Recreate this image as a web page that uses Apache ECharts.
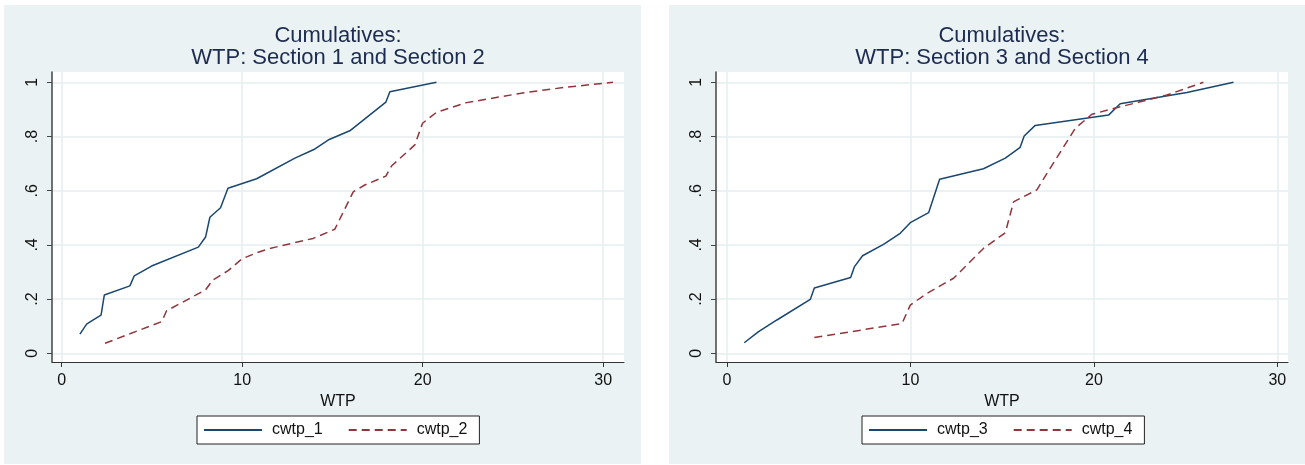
<!DOCTYPE html>
<html>
<head>
<meta charset="utf-8">
<title>Cumulatives: WTP</title>
<script src="https://cdn.jsdelivr.net/npm/echarts@6/dist/echarts.min.js"></script>
<style>
html, body { margin: 0; padding: 0; background: #fff; }
#main { width: 1305px; height: 465px; }
</style>
</head>
<body>
<div id="main"></div>
<script>
// section 1 (solid) and section 2 (dashed)
var wtp1 = [1.01, 1.38, 1.66, 2.18, 2.36, 3.78, 4.02, 4.98, 7.57, 7.97, 8.21, 8.8, 9.21, 10.8, 12.92, 13.97, 14.82, 15.96, 17.96, 18.18, 20.76];
var cwtp1 = [0.071, 0.108, 0.12, 0.141, 0.215, 0.249, 0.286, 0.322, 0.392, 0.429, 0.502, 0.537, 0.609, 0.644, 0.72, 0.752, 0.789, 0.821, 0.927, 0.965, 1.0];
var wtp2 = [2.4, 5.54, 5.81, 7.97, 8.36, 9.22, 9.97, 10.8, 11.53, 13.93, 15.13, 16.15, 16.79, 17.96, 18.27, 19.56, 19.99, 20.76, 22.43, 25.75, 27.96, 30.54];
var cwtp2 = [0.037, 0.117, 0.157, 0.234, 0.27, 0.305, 0.348, 0.371, 0.387, 0.424, 0.458, 0.596, 0.621, 0.654, 0.691, 0.769, 0.849, 0.889, 0.925, 0.963, 0.982, 1.0];

// section 3 (solid) and section 4 (dashed)
var wtp3 = [0.94, 1.72, 2.72, 4.54, 4.76, 6.74, 6.95, 7.39, 8.53, 9.44, 9.99, 10.99, 11.59, 13.98, 15.17, 15.98, 16.2, 16.8, 20.8, 21.43, 25.07, 27.61];
var cwtp3 = [0.039, 0.08, 0.123, 0.199, 0.241, 0.28, 0.32, 0.36, 0.402, 0.443, 0.482, 0.519, 0.642, 0.681, 0.72, 0.76, 0.802, 0.841, 0.879, 0.921, 0.962, 1.0];
var wtp4 = [4.76, 9.54, 9.99, 10.9, 12.35, 12.71, 13.98, 15.17, 15.62, 16.89, 17.44, 18.98, 19.89, 20.89, 22.52, 23.98, 25.97];
var cwtp4 = [0.058, 0.11, 0.178, 0.221, 0.277, 0.301, 0.387, 0.445, 0.559, 0.603, 0.664, 0.83, 0.882, 0.9, 0.928, 0.953, 1.0];

var xTicks = [0, 10, 20, 30];
var yTicks = [0, 0.2, 0.4, 0.6, 0.8, 1];
var yTickLabels = ['0', '.2', '.4', '.6', '.8', '1'];
var titles = ['Cumulatives:\nWTP: Section 1 and Section 2', 'Cumulatives:\nWTP: Section 3 and Section 4'];

var panelColor = '#eaf2f3';
var gridColor = '#e6eef0';
var navy = '#1a476f';
var maroon = '#90353b';
var font = 'Liberation Sans, Arial, Helvetica, sans-serif';

function pairs(xs, ys) {
    var out = [];
    for (var i = 0; i < xs.length; i++) {
        out.push([xs[i], ys[i]]);
    }
    return out;
}

function yLabel(v) {
    for (var i = 0; i < yTicks.length; i++) {
        if (Math.abs(yTicks[i] - v) < 1e-6) return yTickLabels[i];
    }
    return '';
}

// one grid per panel
var grids = [
    { left: 52, top: 72, width: 572, height: 290 },
    { left: 716, top: 72, width: 572, height: 290 }
];
var xRanges = [[-0.537, 31.15], [-0.6, 30.58]];

function makeX(i) {
    return {
        type: 'value',
        gridIndex: i,
        min: xRanges[i][0],
        max: xRanges[i][1],
        name: 'WTP',
        nameLocation: 'middle',
        nameGap: 28,
        nameTextStyle: { fontFamily: font, fontSize: 16, color: '#111' },
        axisLine: { show: true, onZero: false, lineStyle: { color: '#333', width: 1 } },
        axisTick: { show: true, length: 5, customValues: xTicks, lineStyle: { color: '#333' } },
        axisLabel: { customValues: xTicks, margin: 11, fontFamily: font, fontSize: 16, color: '#111' },
        splitLine: { show: true, lineStyle: { color: gridColor, width: 1.5 } }
    };
}

function makeY(i) {
    return {
        type: 'value',
        gridIndex: i,
        min: -0.032,
        max: 1.038,
        axisLine: { show: true, onZero: false, lineStyle: { color: '#444', width: 1.5 } },
        axisTick: { show: true, length: 5, customValues: yTicks, lineStyle: { color: '#444' } },
        axisLabel: { customValues: yTicks, rotate: 90, margin: 11, fontFamily: font, fontSize: 16, color: '#111', formatter: yLabel },
        splitLine: { show: true, lineStyle: { color: gridColor, width: 1.5 } }
    };
}

function makeLine(name, i, data, color, dashed) {
    return {
        name: name,
        type: 'line',
        xAxisIndex: i,
        yAxisIndex: i,
        data: data,
        symbol: 'none',
        showSymbol: false,
        itemStyle: { color: color },
        lineStyle: { color: color, width: 1.5, type: dashed ? [8, 5] : 'solid' }
    };
}

function makeLegend(left, names) {
    return {
        left: left,
        top: 416,
        data: names,
        orient: 'horizontal',
        backgroundColor: '#fff',
        borderColor: '#222',
        borderWidth: 1,
        borderRadius: 0,
        padding: [6, 12, 6, 6],
        itemWidth: 58,
        itemHeight: 14,
        itemGap: 25,
        selectedMode: false,
        // line sample only, no marker
        itemStyle: { opacity: 0, borderWidth: 0 },
        lineStyle: { opacity: 1 },
        textStyle: { fontFamily: font, fontSize: 16, color: '#111', padding: [0, 0, 0, 5] }
    };
}

function makeTitle(x, text) {
    return {
        type: 'text',
        x: x,
        y: 25,
        z: 5,
        style: {
            text: text,
            font: '22px ' + font,
            fill: '#1c2b4f',
            textAlign: 'center',
            lineHeight: 22
        }
    };
}

var chart = echarts.init(document.getElementById('main'), null, { renderer: 'canvas' });
var option = {
    animation: false,
    backgroundColor: '#fff',
    graphic: {
        elements: [
            { type: 'rect', shape: { x: 4, y: 5, width: 637, height: 459 }, style: { fill: panelColor }, z: -10 },
            { type: 'rect', shape: { x: 669, y: 5, width: 636, height: 459 }, style: { fill: panelColor }, z: -10 },
            { type: 'rect', shape: { x: 52, y: 72, width: 572, height: 290 }, style: { fill: '#fff' }, z: -9 },
            { type: 'rect', shape: { x: 716, y: 72, width: 572, height: 290 }, style: { fill: '#fff' }, z: -9 },
            makeTitle(338, titles[0]),
            makeTitle(1002, titles[1])
        ]
    },
    grid: grids,
    xAxis: [makeX(0), makeX(1)],
    yAxis: [makeY(0), makeY(1)],
    legend: [
        makeLegend(197, ['cwtp_1', 'cwtp_2']),
        makeLegend(862, ['cwtp_3', 'cwtp_4'])
    ],
    series: [
        makeLine('cwtp_1', 0, pairs(wtp1, cwtp1), navy, false),
        makeLine('cwtp_2', 0, pairs(wtp2, cwtp2), maroon, true),
        makeLine('cwtp_3', 1, pairs(wtp3, cwtp3), navy, false),
        makeLine('cwtp_4', 1, pairs(wtp4, cwtp4), maroon, true)
    ]
};
chart.setOption(option);
</script>
</body>
</html>
